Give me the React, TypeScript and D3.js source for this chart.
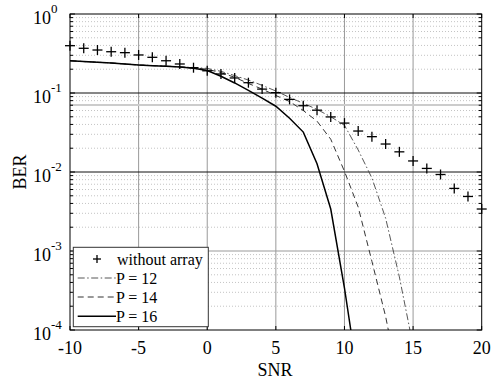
import React from 'react';
import * as d3 from 'd3';

// SNR sample points (dB)
const snr = d3.range(-10, 21);
const snrP12 = d3.range(-10, 16);
const snrP14 = d3.range(-10, 15);
const snrP16 = d3.range(-10, 12);

// BER without array (markers)
const berNoArray = [
  0.397, 0.368, 0.35, 0.333, 0.324, 0.303, 0.283, 0.256, 0.233, 0.209,
  0.191, 0.174, 0.155, 0.135, 0.112, 0.101, 0.083, 0.069, 0.0606, 0.0498,
  0.0416, 0.033, 0.028, 0.0226, 0.018, 0.0138, 0.0111, 0.0093, 0.0062, 0.0049, 0.0034,
];
const berP12 = [
  0.256, 0.25, 0.245, 0.24, 0.233, 0.227, 0.223, 0.219, 0.215, 0.21,
  0.205, 0.188, 0.166, 0.146, 0.125, 0.106, 0.088, 0.074, 0.062, 0.05,
  0.039, 0.019, 0.0084, 0.0026, 0.00047, 0.000063,
];
const berP14 = [
  0.256, 0.25, 0.245, 0.24, 0.233, 0.226, 0.222, 0.218, 0.214, 0.208,
  0.2, 0.181, 0.158, 0.132, 0.112, 0.093, 0.078, 0.06, 0.044, 0.026,
  0.0102, 0.0036, 0.00074, 0.000148, 0.00002,
];
const berP16 = [
  0.256, 0.25, 0.245, 0.24, 0.233, 0.226, 0.222, 0.218, 0.213, 0.206,
  0.193, 0.163, 0.134, 0.108, 0.086, 0.068, 0.048, 0.032, 0.0127, 0.0034,
  0.00034, 0.000024,
];

const xTicks = [-10, -5, 0, 5, 10, 15, 20];
const yDecades = [0, -1, -2, -3, -4];
const darkGridLevels = [0.1, 0.01];
const refLevel = 0.0705;
const legendLabels = ['without array', 'P = 12', 'P = 14', 'P = 16'];

const W = 492, H = 381;
const L = 70, R = 481.7, T = 14, B = 330;
const font = "'Liberation Serif', 'Times New Roman', Times, serif";

export default function App() {
  const x = d3.scaleLinear().domain([-10, 20]).range([L, R]);
  const y = d3.scaleLog().domain([1e-4, 1]).range([B, T]);

  const minors: number[] = [];
  for (let e = -4; e < 0; e++) for (let m = 2; m <= 9; m++) minors.push(m * Math.pow(10, e));

  const mk = (xs: number[], ys: number[]) =>
    d3.line<number>().x((_, i) => x(xs[i])).y((v) => y(v))(ys) || '';

  const series = [
    { d: mk(snrP12, berP12), dash: '7,2.5,1.5,2.5', color: '#444', w: 0.9 },
    { d: mk(snrP14, berP14), dash: '6,4', color: '#333', w: 1 },
    { d: mk(snrP16, berP16), dash: '', color: '#000', w: 1.5 },
  ];

  const plus = (cx: number, cy: number, s = 5, key?: any) => (
    <g key={key} stroke="#000" strokeWidth={1.3}>
      <line x1={cx - s} x2={cx + s} y1={cy} y2={cy} />
      <line x1={cx} x2={cx} y1={cy - s} y2={cy + s} />
    </g>
  );

  const legX = 73.3, legY = 247.3, legW = 135, legH = 79.4;
  const rowBase = [265, 284, 303, 322.3];
  const ts = { fontFamily: font };

  return (
    <svg width={W} height={H} style={{ position: 'absolute', left: 0, top: 0, background: '#fff', fontFamily: font }}>
      <defs>
        <clipPath id="plotclip">
          <rect x={L} y={T} width={R - L} height={B - T} />
        </clipPath>
      </defs>
      <rect x={0} y={0} width={W} height={H} fill="#fff" />
      {/* minor grid */}
      {minors.map((v, i) => (
        <line key={'mn' + i} x1={L} x2={R} y1={y(v)} y2={y(v)} stroke="#c4c4c4" strokeWidth={1}
          strokeDasharray="1,2" />
      ))}
      {/* vertical grid */}
      {xTicks.slice(1, -1).map((t) => (
        <line key={'vg' + t} x1={x(t)} x2={x(t)} y1={T} y2={B} stroke="#999" strokeWidth={1} />
      ))}
      {/* decade grid */}
      {yDecades.slice(1, -1).map((e) => {
        const v = Math.pow(10, e);
        const dark = darkGridLevels.some((d) => Math.abs(d - v) < 1e-9);
        return <line key={'dg' + e} x1={L} x2={R} y1={y(v)} y2={y(v)} stroke={dark ? '#111' : '#999'} strokeWidth={1} />;
      })}
      <line x1={L} x2={R} y1={y(refLevel)} y2={y(refLevel)} stroke="#ccc" strokeWidth={2} />

      {/* curves */}
      <g clipPath="url(#plotclip)" fill="none">
        {series.map((s, i) => (
          <path key={'s' + i} d={s.d} stroke={s.color} strokeWidth={s.w} strokeDasharray={s.dash || undefined} />
        ))}
      </g>
      {snr.map((t, i) => plus(x(t), y(berNoArray[i]), 5, 'p' + i))}

      {/* axes box and ticks */}
      <rect x={L} y={T} width={R - L} height={B - T} fill="none" stroke="#000" strokeWidth={1} />
      {xTicks.map((t) => (
        <g key={'xt' + t} stroke="#000">
          <line x1={x(t)} x2={x(t)} y1={B} y2={B - 4} />
          <line x1={x(t)} x2={x(t)} y1={T} y2={T + 4} />
        </g>
      ))}
      {minors.map((v, i) => (
        <g key={'ymt' + i} stroke="#000">
          <line x1={L} x2={L + 3} y1={y(v)} y2={y(v)} />
          <line x1={R} x2={R - 3} y1={y(v)} y2={y(v)} />
        </g>
      ))}
      {yDecades.map((e) => (
        <g key={'yt' + e} stroke="#000">
          <line x1={L} x2={L + 5} y1={y(Math.pow(10, e))} y2={y(Math.pow(10, e))} />
          <line x1={R} x2={R - 5} y1={y(Math.pow(10, e))} y2={y(Math.pow(10, e))} />
        </g>
      ))}

      {/* tick labels */}
      {xTicks.map((t) => (
        <text key={'xl' + t} style={ts} x={x(t)} y={354} textAnchor="middle" fontSize={18} fill="#000">{t}</text>
      ))}
      {yDecades.map((e) => {
        const yy = y(Math.pow(10, e));
        return (
          <text key={'yl' + e} style={ts} x={33} y={yy + 10} fontSize={18} fill="#000">
            10<tspan fontSize={13} dy={-11}>{e}</tspan>
          </text>
        );
      })}

      <text style={ts} x={275} y={375.5} textAnchor="middle" fontSize={18} fill="#000">SNR</text>
      <text style={ts} transform={`translate(26,${(T + B) / 2}) rotate(-90)`} textAnchor="middle" fontSize={18} fill="#000">BER</text>

      {/* legend */}
      <rect x={legX} y={legY} width={legW} height={legH} fill="#fff" stroke="#333" strokeWidth={1} />
      {plus(97, rowBase[0] - 6, 4)}
      {series.map((s, i) => (
        <line key={'ll' + i} x1={77.7} x2={116} y1={rowBase[i + 1] - 6} y2={rowBase[i + 1] - 6}
          stroke={s.color} strokeWidth={s.w} strokeDasharray={s.dash || undefined} />
      ))}
      {legendLabels.map((lab, i) => (
        <text key={'lt' + i} style={ts} x={i === 0 ? 117 : 116} y={rowBase[i]} fontSize={16} fill="#000">{lab}</text>
      ))}
    </svg>
  );
}
